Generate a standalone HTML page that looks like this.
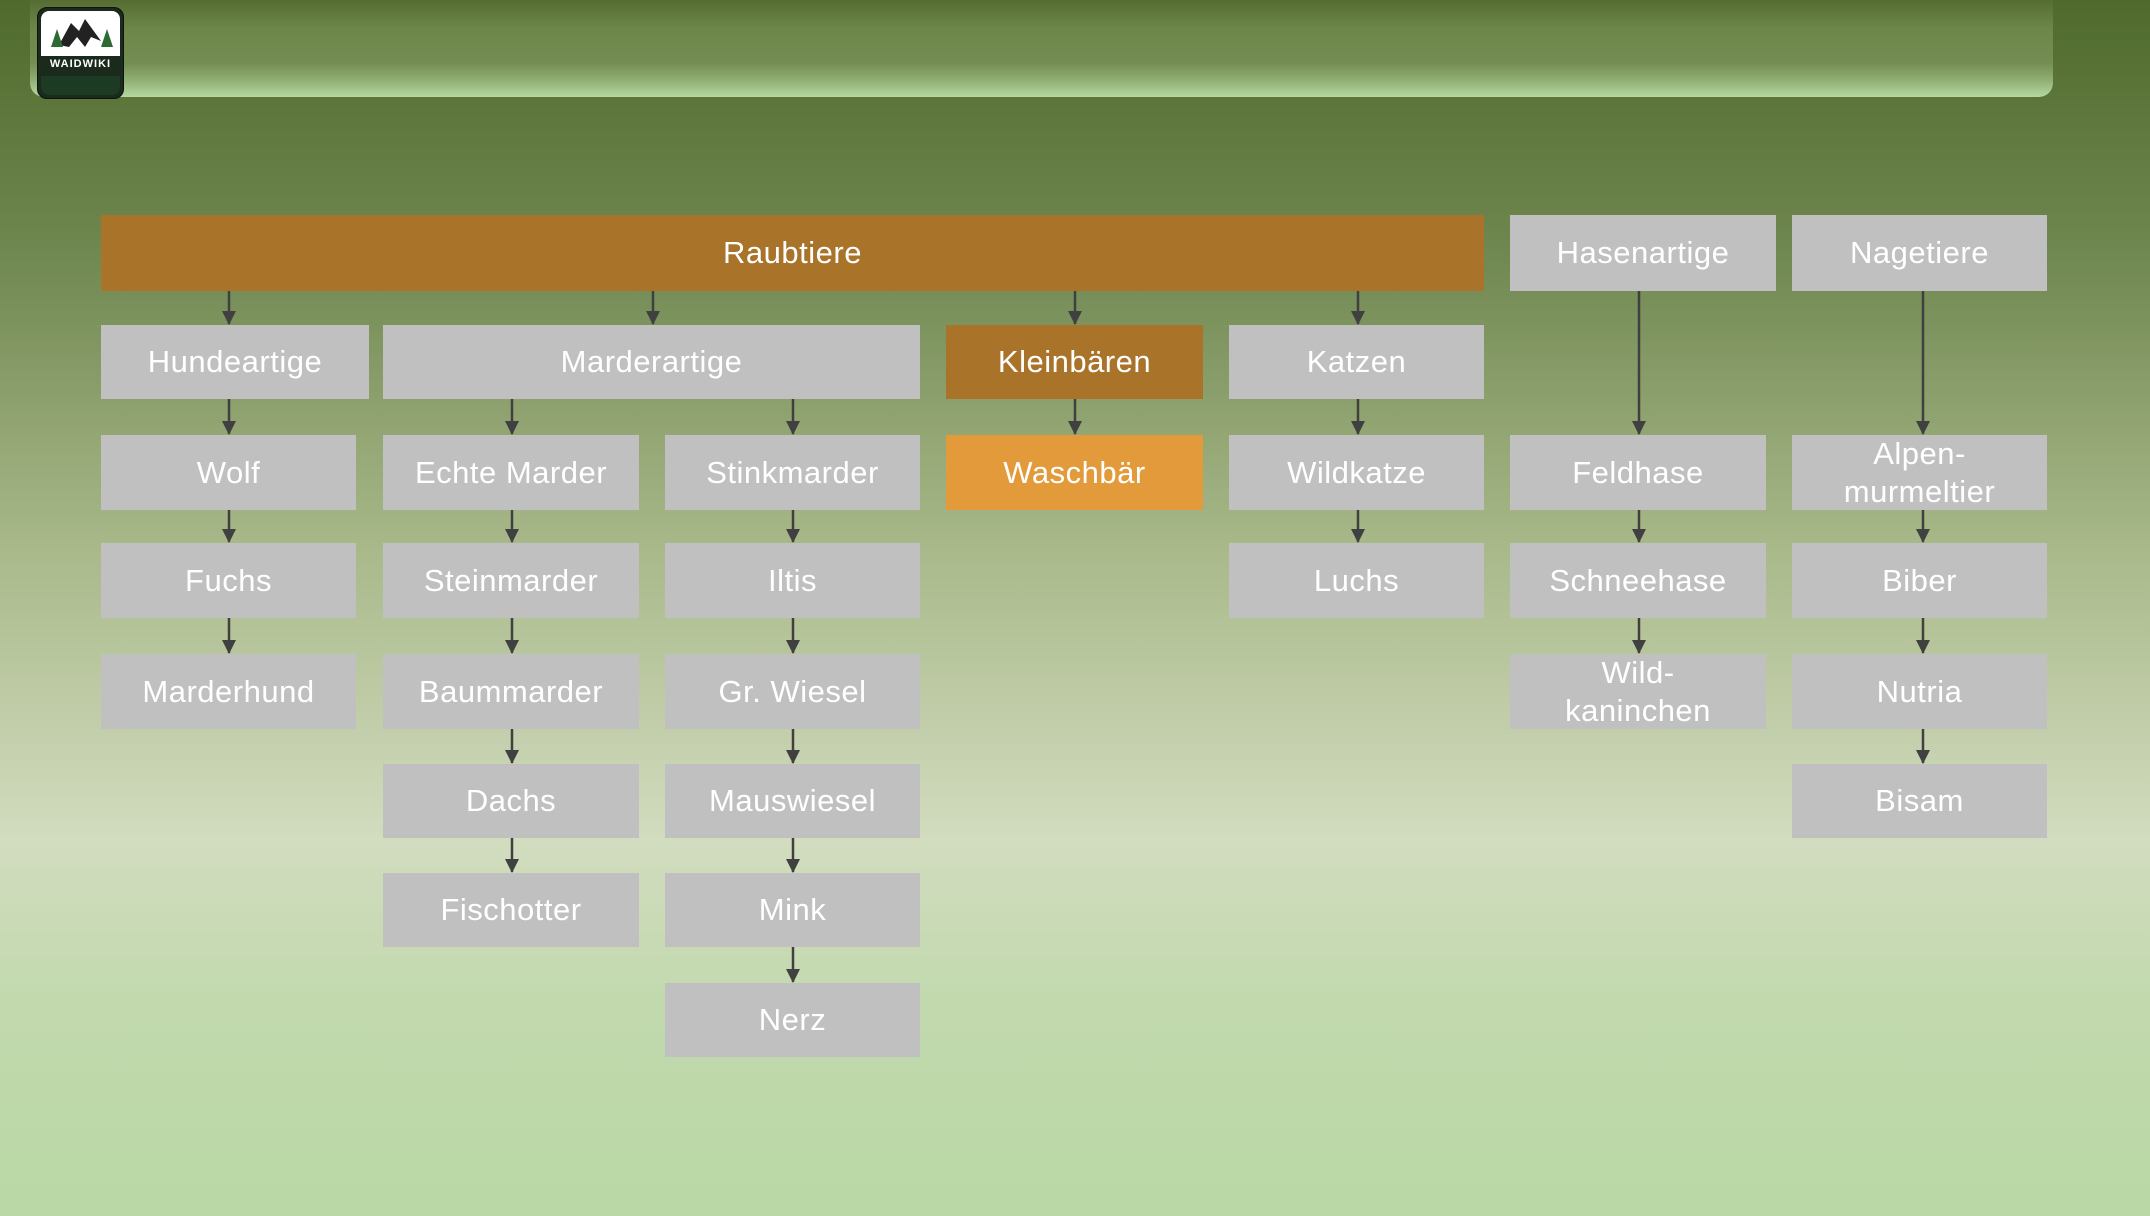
<!DOCTYPE html>
<html><head><meta charset="utf-8"><style>
body{margin:0}
#p{position:relative;width:2150px;height:1216px;overflow:hidden;font-family:"Liberation Sans",sans-serif;
background:linear-gradient(180deg,#4f6a2c 0px,#6f8750 250px,#a9b98a 550px,#d2dcbf 840px,#c2d9ae 1000px,#b9d8a5 1216px)}
.b{position:absolute;background:#c0c0c0;color:#fff;font-size:31px;display:flex;align-items:center;justify-content:center;text-align:center;line-height:1.2;letter-spacing:0.5px}
.o{background:#a9732a}.w{background:#e39a3a}
#hdr{position:absolute;left:30px;top:0;width:2023px;height:97px;border-radius:0 0 14px 14px;
background:linear-gradient(180deg,#556d32 0%,#6d8649 30%,#748d52 65%,#8fae72 82%,#b6d8a2 100%)}
#logo{position:absolute;left:37px;top:7px;width:85px;height:90px;border-radius:10px;background:#1a2a1c;overflow:hidden;border:1px solid #111}
</style></head><body><div id="p">
<div id="hdr"></div>
<div id="logo">
<div style="position:absolute;left:3px;top:3px;width:79px;height:45px;background:#fff;border-radius:8px 8px 0 0"></div>
<svg style="position:absolute;left:3px;top:3px" width="79" height="45"><polygon points="18,34 30,12 38,20 44,8 60,30 50,26 44,36 36,26 28,36" fill="#222"/><polygon points="10,36 16,18 22,36" fill="#2e6b32"/><polygon points="60,36 66,18 72,36" fill="#2e6b32"/></svg>
<div style="position:absolute;left:0;top:50px;width:85px;text-align:center;color:#fff;font-size:11px;font-weight:bold;letter-spacing:1px">WAIDWIKI</div>
<div style="position:absolute;left:3px;top:68px;width:79px;height:19px;background:#1d3a22;border-radius:0 0 8px 8px"></div>
</div>

<div class="b o" style="left:101px;top:215px;width:1383px;height:76px">Raubtiere</div>
<div class="b" style="left:1510px;top:215px;width:266px;height:76px">Hasenartige</div>
<div class="b" style="left:1792px;top:215px;width:255px;height:76px">Nagetiere</div>

<div class="b" style="left:101px;top:325px;width:268px;height:74px">Hundeartige</div>
<div class="b" style="left:383px;top:325px;width:537px;height:74px">Marderartige</div>
<div class="b o" style="left:946px;top:325px;width:257px;height:74px">Kleinbären</div>
<div class="b" style="left:1229px;top:325px;width:255px;height:74px">Katzen</div>

<div class="b" style="left:101px;top:435px;width:255px;height:75px">Wolf</div>
<div class="b" style="left:383px;top:435px;width:256px;height:75px">Echte Marder</div>
<div class="b" style="left:665px;top:435px;width:255px;height:75px">Stinkmarder</div>
<div class="b w" style="left:946px;top:435px;width:257px;height:75px">Waschbär</div>
<div class="b" style="left:1229px;top:435px;width:255px;height:75px">Wildkatze</div>
<div class="b" style="left:1510px;top:435px;width:256px;height:75px">Feldhase</div>
<div class="b" style="left:1792px;top:435px;width:255px;height:75px">Alpen-<br>murmeltier</div>

<div class="b" style="left:101px;top:543px;width:255px;height:75px">Fuchs</div>
<div class="b" style="left:383px;top:543px;width:256px;height:75px">Steinmarder</div>
<div class="b" style="left:665px;top:543px;width:255px;height:75px">Iltis</div>
<div class="b" style="left:1229px;top:543px;width:255px;height:75px">Luchs</div>
<div class="b" style="left:1510px;top:543px;width:256px;height:75px">Schneehase</div>
<div class="b" style="left:1792px;top:543px;width:255px;height:75px">Biber</div>

<div class="b" style="left:101px;top:654px;width:255px;height:75px">Marderhund</div>
<div class="b" style="left:383px;top:654px;width:256px;height:75px">Baummarder</div>
<div class="b" style="left:665px;top:654px;width:255px;height:75px">Gr. Wiesel</div>
<div class="b" style="left:1510px;top:654px;width:256px;height:75px">Wild-<br>kaninchen</div>
<div class="b" style="left:1792px;top:654px;width:255px;height:75px">Nutria</div>

<div class="b" style="left:383px;top:764px;width:256px;height:74px">Dachs</div>
<div class="b" style="left:665px;top:764px;width:255px;height:74px">Mauswiesel</div>
<div class="b" style="left:1792px;top:764px;width:255px;height:74px">Bisam</div>

<div class="b" style="left:383px;top:873px;width:256px;height:74px">Fischotter</div>
<div class="b" style="left:665px;top:873px;width:255px;height:74px">Mink</div>
<div class="b" style="left:665px;top:983px;width:255px;height:74px">Nerz</div>

<svg style="position:absolute;left:0;top:0" width="2150" height="1216">
<defs><marker id="a" markerWidth="14" markerHeight="14" refX="13" refY="7" orient="auto" markerUnits="userSpaceOnUse"><polygon points="0,0 14,7 0,14" fill="#404040"/></marker></defs>
<g stroke="#404040" stroke-width="2.5" marker-end="url(#a)">
<line x1="229" y1="291" x2="229" y2="324"/><line x1="653" y1="291" x2="653" y2="324"/><line x1="1075" y1="291" x2="1075" y2="324"/><line x1="1358" y1="291" x2="1358" y2="324"/>
<line x1="229" y1="399" x2="229" y2="434"/><line x1="512" y1="399" x2="512" y2="434"/><line x1="793" y1="399" x2="793" y2="434"/><line x1="1075" y1="399" x2="1075" y2="434"/><line x1="1358" y1="399" x2="1358" y2="434"/>
<line x1="1639" y1="291" x2="1639" y2="434"/><line x1="1923" y1="291" x2="1923" y2="434"/>
<line x1="229" y1="510" x2="229" y2="542"/><line x1="512" y1="510" x2="512" y2="542"/><line x1="793" y1="510" x2="793" y2="542"/><line x1="1358" y1="510" x2="1358" y2="542"/><line x1="1639" y1="510" x2="1639" y2="542"/><line x1="1923" y1="510" x2="1923" y2="542"/>
<line x1="229" y1="618" x2="229" y2="653"/><line x1="512" y1="618" x2="512" y2="653"/><line x1="793" y1="618" x2="793" y2="653"/><line x1="1639" y1="618" x2="1639" y2="653"/><line x1="1923" y1="618" x2="1923" y2="653"/>
<line x1="512" y1="729" x2="512" y2="763"/><line x1="793" y1="729" x2="793" y2="763"/><line x1="1923" y1="729" x2="1923" y2="763"/>
<line x1="512" y1="838" x2="512" y2="872"/><line x1="793" y1="838" x2="793" y2="872"/>
<line x1="793" y1="947" x2="793" y2="982"/>
</g></svg>
</div></body></html>
